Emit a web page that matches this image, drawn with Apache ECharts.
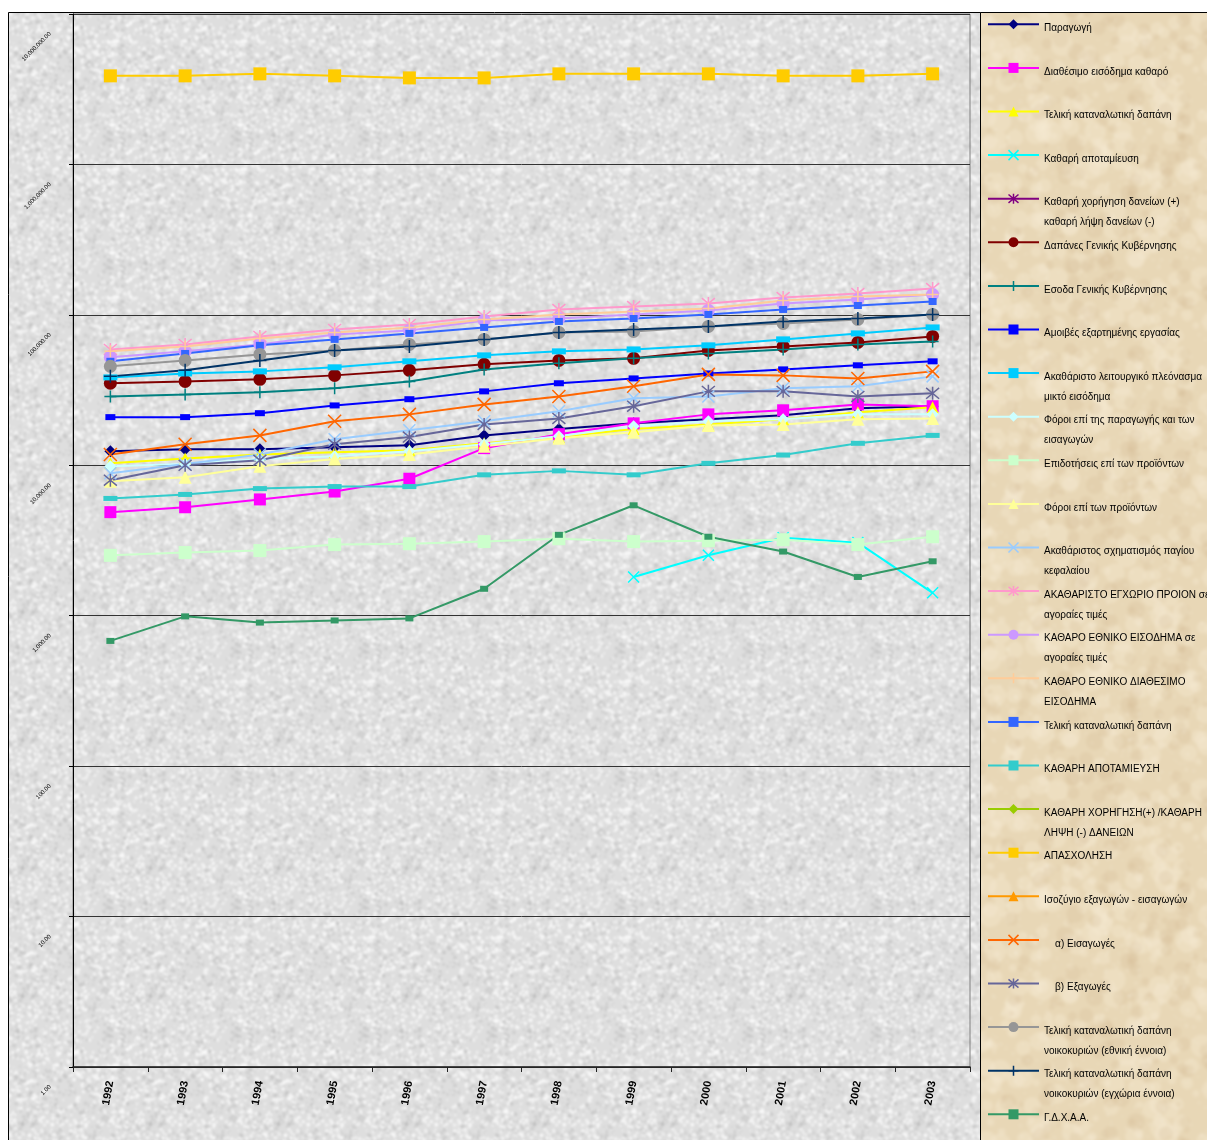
<!DOCTYPE html>
<html>
<head>
<meta charset="utf-8">
<script src="https://cdn.jsdelivr.net/npm/echarts/dist/echarts.min.js"></script>
<style>
  html, body { margin: 0; padding: 0; background: #ffffff; }
  #chart { width: 1207px; height: 1140px; }
</style>
</head>
<body>
<div id="chart"></div>
<script>
// Years on the category axis
const years = ['1992', '1993', '1994', '1995', '1996', '1997', '1998', '1999', '2000', '2001', '2002', '2003'];

// Series values (log scale)
const paragogi            = [12400, 12800, 12800, 13200, 13600, 15800, 17400, 19000, 20200, 21500, 23900, 24700];
const diathesimoEisodima  = [4880, 5260, 5930, 6690, 8140, 13000, 16100, 19000, 21800, 23200, 25400, 24700];
const telikiDapani        = [10300, 11100, 11800, 12200, 12600, 14000, 15400, 17400, 18700, 20200, 22500, 24300];
const kathariApotamieusi  = [null, null, null, null, null, null, null, 1810, 2520, 3300, 3060, 1420];
const daneiaKatharo       = [null, null, null, null, null, null, null, null, null, null, null, null];
const dapanesGK           = [35100, 36100, 37300, 39600, 42800, 46900, 49800, 51400, 58000, 61700, 65600, 71900];
const esodaGK             = [28700, 29600, 30600, 32500, 36100, 43400, 47600, 51400, 55400, 58900, 63600, 66600];
const amoivesErgasias     = [20900, 20900, 22200, 25000, 27500, 31000, 35100, 37800, 40800, 43400, 46200, 49100];
const pleonasma           = [38400, 40800, 42100, 44800, 49100, 53800, 57200, 58900, 62700, 68700, 75300, 82500];
const foroiParagogis      = [9860, 10200, 11000, 11500, 12400, 13800, 15600, 18200, 19600, 20200, 21800, 21800];
const epidotiseis         = [2520, 2630, 2710, 2970, 3010, 3110, 3250, 3110, 3150, 3200, 2970, 3350];
const foroiProionton      = [7840, 8340, 9860, 11000, 11800, 13400, 15100, 16600, 18400, 18700, 20200, 20500];
const sxhmatismos         = [8860, 10200, 11800, 14900, 17100, 19600, 22900, 27900, 28700, 32500, 33500, 39000];
const aep                 = [58900, 63600, 71900, 80000, 86400, 97600, 108600, 113700, 119000, 130500, 138700, 149700];
const kathEthnEisodima    = [52200, 57200, 63600, 74100, 78800, 91800, 94600, 100600, 107000, 119000, 126500, 136600];
const kathEthnDiathesimo  = [57200, 61700, 69700, 76400, 82500, 93200, 100600, 105300, 110300, 124600, 132500, 136600];
const telikiDapaniSynolo  = [49100, 55400, 62700, 68700, 75300, 82500, 90400, 94600, 100600, 108600, 115400, 122700];
const apotamieusiSynolo   = [6020, 6400, 7000, 7220, 7220, 8640, 9180, 8640, 10300, 11700, 14000, 15800];
const daneiaSynolo        = [null, null, null, null, null, null, null, null, null, null, null, null];
const apasxolisi          = [3880000, 3880000, 4000000, 3880000, 3760000, 3760000, 4000000, 4000000, 4000000, 3880000, 3880000, 4000000];
const isozygio            = [null, null, null, null, null, null, null, null, null, null, null, null];
const eisagoges           = [11800, 13800, 15800, 19600, 21800, 25400, 28700, 33500, 40200, 39600, 37800, 42100];
const exagoges            = [7960, 10000, 10800, 13800, 15400, 18700, 20500, 24700, 31000, 31000, 28700, 30100];
const noikokyriaEthniki   = [45500, 49800, 54600, 58000, 63600, 68700, 76400, 77600, 83800, 87700, 93200, 100600];
const noikokyriaEgxoria   = [39000, 42800, 49800, 58000, 61700, 68700, 76400, 80000, 83800, 90400, 94600, 100600];
const gdxaa               = [680, 990, 900, 930, 960, 1510, 3450, 5420, 3350, 2670, 1810, 2300];

// Marker shapes
const CROSS = 'path://M0,0L10,10M10,0L0,10';
const STAR  = 'path://M0,0L10,10M10,0L0,10M5,-1L5,11';
const PLUS  = 'path://M5,0L5,10M0,5L10,5';

const seriesDefs = [
  { name: 'Παραγωγή', data: paragogi, color: '#000080', symbol: 'diamond', size: 12 },
  { name: 'Διαθέσιμο εισόδημα καθαρό', data: diathesimoEisodima, color: '#ff00ff', symbol: 'rect', size: 12 },
  { name: 'Τελική καταναλωτική δαπάνη', data: telikiDapani, color: '#ffff00', symbol: 'triangle', size: 12 },
  { name: 'Καθαρή αποταμίευση', data: kathariApotamieusi, color: '#00ffff', symbol: CROSS, size: 11, stroke: true },
  { name: 'Καθαρή χορήγηση δανείων (+)\nκαθαρή λήψη δανείων (-)', data: daneiaKatharo, color: '#800080', symbol: STAR, size: 11, stroke: true },
  { name: 'Δαπάνες Γενικής Κυβέρνησης', data: dapanesGK, color: '#800000', symbol: 'circle', size: 13 },
  { name: 'Εσοδα Γενικής Κυβέρνησης', data: esodaGK, color: '#008080', symbol: PLUS, size: 12, stroke: true },
  { name: 'Αμοιβές εξαρτημένης εργασίας', data: amoivesErgasias, color: '#0000ff', symbol: 'rect', size: [10, 6] },
  { name: 'Ακαθάριστο λειτουργικό πλεόνασμα\nμικτό εισόδημα', data: pleonasma, color: '#00ccff', symbol: 'rect', size: [14, 6] },
  { name: 'Φόροι επί της παραγωγής και των\nεισαγωγών', data: foroiParagogis, color: '#ccffff', symbol: 'diamond', size: 12 },
  { name: 'Επιδοτήσεις επί των προϊόντων', data: epidotiseis, color: '#ccffcc', symbol: 'rect', size: 13 },
  { name: 'Φόροι επί των προϊόντων', data: foroiProionton, color: '#ffff99', symbol: 'triangle', size: 13 },
  { name: 'Ακαθάριστος σχηματισμός παγίου\nκεφαλαίου', data: sxhmatismos, color: '#99ccff', symbol: CROSS, size: 12, stroke: true },
  { name: 'ΑΚΑΘΑΡΙΣΤΟ ΕΓΧΩΡΙΟ ΠΡΟΙΟΝ σε\nαγοραίες τιμές', data: aep, color: '#ff99cc', symbol: STAR, size: 13, stroke: true },
  { name: 'ΚΑΘΑΡΟ ΕΘΝΙΚΟ ΕΙΣΟΔΗΜΑ σε\nαγοραίες τιμές', data: kathEthnEisodima, color: '#cc99ff', symbol: 'circle', size: 13 },
  { name: 'ΚΑΘΑΡΟ ΕΘΝΙΚΟ ΔΙΑΘΕΣΙΜΟ\nΕΙΣΟΔΗΜΑ', data: kathEthnDiathesimo, color: '#ffcc99', symbol: PLUS, size: 12, stroke: true },
  { name: 'Τελική καταναλωτική δαπάνη ', data: telikiDapaniSynolo, color: '#3366ff', symbol: 'rect', size: [8, 7] },
  { name: 'ΚΑΘΑΡΗ ΑΠΟΤΑΜΙΕΥΣΗ', data: apotamieusiSynolo, color: '#33cccc', symbol: 'rect', size: [14, 5] },
  { name: 'ΚΑΘΑΡΗ ΧΟΡΗΓΗΣΗ(+) /ΚΑΘΑΡΗ\nΛΗΨΗ (-) ΔΑΝΕΙΩΝ', data: daneiaSynolo, color: '#99cc00', symbol: 'diamond', size: 11 },
  { name: 'ΑΠΑΣΧΟΛΗΣΗ', data: apasxolisi, color: '#ffcc00', symbol: 'rect', size: 13 },
  { name: 'Ισοζύγιο εξαγωγών - εισαγωγών', data: isozygio, color: '#ff9900', symbol: 'triangle', size: 12 },
  { name: '    α) Εισαγωγές', data: eisagoges, color: '#ff6600', symbol: CROSS, size: 13, stroke: true },
  { name: '    β) Εξαγωγές', data: exagoges, color: '#666699', symbol: STAR, size: 13, stroke: true },
  { name: 'Τελική καταναλωτική δαπάνη\nνοικοκυριών (εθνική έννοια)', data: noikokyriaEthniki, color: '#969696', symbol: 'circle', size: 13 },
  { name: 'Τελική καταναλωτική δαπάνη\nνοικοκυριών (εγχώρια έννοια)', data: noikokyriaEgxoria, color: '#003366', symbol: PLUS, size: 13, stroke: true },
  { name: 'Γ.Δ.Χ.Α.Α.', data: gdxaa, color: '#339966', symbol: 'rect', size: [8, 6] }
];

// Tileable mottled fill used for the chart and legend backgrounds
function grainPattern(size, base, layers, blurPx, seed) {
  const raw = document.createElement('canvas');
  raw.width = raw.height = size;
  const g = raw.getContext('2d');
  g.fillStyle = base;
  g.fillRect(0, 0, size, size);
  let s = seed;
  const next = () => { s = (s * 48271) % 2147483647; return s / 2147483647; };
  layers.forEach(L => {
    g.fillStyle = L.color;
    g.globalAlpha = L.alpha;
    for (let i = 0; i < L.count; i++) {
      const x = next() * size, y = next() * size;
      const r = L.rMin + next() * (L.rMax - L.rMin);
      for (const dx of [-size, 0, size]) {
        for (const dy of [-size, 0, size]) {
          g.beginPath();
          g.arc(x + dx, y + dy, r, 0, Math.PI * 2);
          g.fill();
        }
      }
    }
  });
  g.globalAlpha = 1;
  const big = document.createElement('canvas');
  big.width = big.height = size * 3;
  const bg = big.getContext('2d');
  for (let i = 0; i < 3; i++) for (let j = 0; j < 3; j++) bg.drawImage(raw, i * size, j * size);
  const out = document.createElement('canvas');
  out.width = out.height = size;
  const o = out.getContext('2d');
  o.filter = 'blur(' + blurPx + 'px)';
  o.drawImage(big, -size, -size);
  return out;
}

const granite = grainPattern(128, '#dedede', [
  { color: '#b0b0b0', alpha: 0.30, count: 500, rMin: 0.8, rMax: 2.2 },
  { color: '#ffffff', alpha: 0.55, count: 700, rMin: 0.7, rMax: 2.2 }
], 0.8, 12345);

const parchment = grainPattern(256, '#e8d7b6', [
  { color: '#f5ead3', alpha: 0.35, count: 200, rMin: 3, rMax: 12 },
  { color: '#cdb48a', alpha: 0.18, count: 140, rMin: 2, rMax: 9 },
  { color: '#faf2e2', alpha: 0.3, count: 700, rMin: 0.5, rMax: 1.5 }
], 1.5, 67890);

const FONT = '"Liberation Sans", Arial, sans-serif';

// Each legend entry gets the same box height so the rows stay evenly spaced;
// the first text line sits slightly below the marker.
const legendData = seriesDefs.map(d => {
  const twoLines = d.name.indexOf('\n') >= 0;
  const item = {
    name: d.name,
    textStyle: { padding: twoLines ? [28, 0, 0, 0] : [28, 0, 20, 0] }
  };
  if (d.stroke) item.itemStyle = { borderColor: d.color, borderWidth: 1.5 };
  return item;
});

const series = seriesDefs.map(d => ({
  name: d.name,
  type: 'line',
  data: d.data,
  color: d.color,
  symbol: d.symbol,
  symbolSize: d.size,
  showSymbol: true,
  showAllSymbol: true,
  connectNulls: false,
  lineStyle: { color: d.color, width: 2 },
  itemStyle: d.stroke
    ? { color: d.color, borderColor: d.color, borderWidth: 1.5 }
    : { color: d.color, borderWidth: 0 },
  emphasis: { disabled: true },
  animation: false
}));

const chart = echarts.init(document.getElementById('chart'), null, { renderer: 'canvas' });

chart.setOption({
  animation: false,
  backgroundColor: '#ffffff',
  textStyle: { fontFamily: FONT },
  graphic: [
    {
      type: 'rect', z: -100, silent: true,
      shape: { x: 8.5, y: 12.5, width: 972, height: 1140 },
      style: { fill: { image: granite, repeat: 'repeat' }, stroke: '#000000', lineWidth: 1 }
    },
    {
      type: 'rect', z: -99, silent: true,
      shape: { x: 980.5, y: 12.5, width: 240, height: 1140 },
      style: { fill: { image: parchment, repeat: 'repeat' }, stroke: '#000000', lineWidth: 1 }
    }
  ],
  grid: {
    left: 73, right: 237, top: 14, bottom: 73,
    show: true, backgroundColor: 'transparent',
    borderColor: '#808080', borderWidth: 1,
    containLabel: false
  },
  legend: {
    orient: 'vertical',
    left: 987,
    top: -9.7,
    height: 1400,
    padding: 0,
    itemGap: -24.4,
    itemWidth: 51,
    itemHeight: 12.5,
    selectedMode: false,
    data: legendData,
    textStyle: {
      fontFamily: FONT, fontSize: 10, color: '#000000', lineHeight: 20,
      rich: { t: { fontFamily: FONT, fontSize: 10, color: '#000000', lineHeight: 20 } }
    }
  },
  xAxis: {
    type: 'category',
    data: years,
    boundaryGap: true,
    axisLine: { show: true, lineStyle: { color: '#222222', width: 1.5 } },
    axisTick: { show: true, length: 5, interval: 0, lineStyle: { color: '#222222' } },
    axisLabel: {
      interval: 0,
      rotate: 80,
      margin: 14,
      align: 'right',
      verticalAlign: 'middle',
      padding: [0, 0, 10, 0],
      fontFamily: FONT,
      fontSize: 11,
      fontWeight: 'bold',
      color: '#000000'
    },
    splitLine: { show: false }
  },
  yAxis: {
    type: 'log',
    logBase: 10,
    min: 1,
    max: 10000000,
    splitNumber: 7,
    axisLine: { show: true, lineStyle: { color: '#000000', width: 1 } },
    axisTick: { show: true, length: 4, lineStyle: { color: '#000000' } },
    axisLabel: {
      rotate: 45,
      margin: 42,
      align: 'right',
      verticalAlign: 'top',
      padding: [23, 0, 0, 0],
      lineHeight: 8,
      fontFamily: FONT,
      fontSize: 6,
      color: '#000000',
      formatter: v => Math.round(v).toLocaleString('en-US', { minimumFractionDigits: 2, maximumFractionDigits: 2 })
    },
    splitLine: { show: true, lineStyle: { color: '#333333', width: 1 } }
  },
  series: series
});
</script>
</body>
</html>
